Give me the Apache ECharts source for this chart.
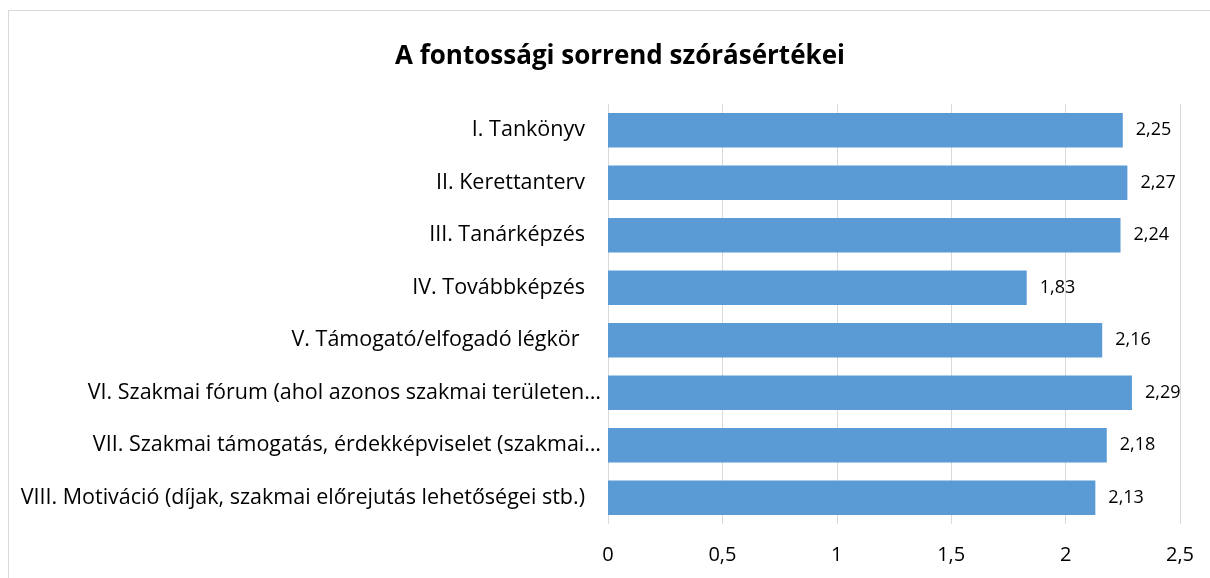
<!DOCTYPE html>
<html>
<head>
<meta charset="utf-8">
<script src="https://cdn.jsdelivr.net/npm/echarts@6/dist/echarts.min.js"></script>
<style>
    html, body {margin: 0; padding: 0; background: #fff;}
    #frame {position: absolute; left: 8px; top: 10px; width: 1300px; height: 700px;
        border-left: 1px solid #d9d9d9; border-top: 1px solid #d9d9d9;}
    #main {position: absolute; left: 0; top: 0; width: 1210px; height: 578px;}
</style>
</head>
<body>
<div id="frame"></div>
<div id="main"></div>
<script>
var titleText = 'A fontossági sorrend szórásértékei';
var categories = [
    'I. Tankönyv',
    'II. Kerettanterv',
    'III. Tanárképzés',
    'IV. Továbbképzés',
    'V. Támogató/elfogadó légkör ',
    'VI. Szakmai fórum (ahol azonos szakmai területen…',
    'VII. Szakmai támogatás, érdekképviselet (szakmai…',
    'VIII. Motiváció (díjak, szakmai előrejutás lehetőségei stb.)'
];
var values = [2.25, 2.27, 2.24, 1.83, 2.16, 2.29, 2.18, 2.13];
var xTicks = [0, 0.5, 1, 1.5, 2, 2.5];

var fontName = '"Open Sans", "Noto Sans", sans-serif';

function comma(v) {
    return String(v).replace('.', ',');
}

var mychart = echarts.init(document.getElementById('main'));
var option = {
    animation: false,
    title: {
        text: titleText,
        left: 390,
        top: 39,
        textStyle: {
            fontFamily: fontName,
            fontWeight: 'bold',
            fontSize: 26,
            color: '#000'
        }
    },
    grid: {left: 608, right: 30, top: 104, bottom: 54},
    xAxis: {
        type: 'value',
        min: xTicks[0],
        max: xTicks[xTicks.length - 1],
        interval: 0.5,
        axisLine: {show: false},
        axisTick: {show: false},
        splitLine: {lineStyle: {color: '#d9d9d9', width: 1}},
        axisLabel: {
            margin: 21,
            fontFamily: fontName,
            fontSize: 20,
            color: '#000',
            formatter: function (v) { return comma(v); }
        }
    },
    yAxis: {
        type: 'category',
        inverse: true,
        data: categories,
        axisLine: {show: false},
        axisTick: {show: false},
        axisLabel: {
            margin: 7,
            fontFamily: fontName,
            fontSize: 21.5,
            color: '#000',
            // a levágott (… végű) feliratok közelebb érnek a tengelyhez
            formatter: function (v) {
                return v.slice(-1) === '…' ? '{cut|' + v + '}' : '{full|' + v + '}';
            },
            rich: {
                cut: {fontFamily: fontName, fontSize: 21.5, color: '#000'},
                full: {fontFamily: fontName, fontSize: 21.5, color: '#000', padding: [0, 16, 0, 0]}
            }
        }
    },
    series: [{
        type: 'bar',
        data: values,
        barWidth: '66%',
        itemStyle: {color: '#5b9bd5'},
        label: {
            show: true,
            position: 'right',
            distance: 13,
            fontFamily: fontName,
            fontSize: 18,
            color: '#000',
            formatter: function (p) { return comma(p.value); }
        }
    }]
};
mychart.setOption(option);
</script>
</body>
</html>
